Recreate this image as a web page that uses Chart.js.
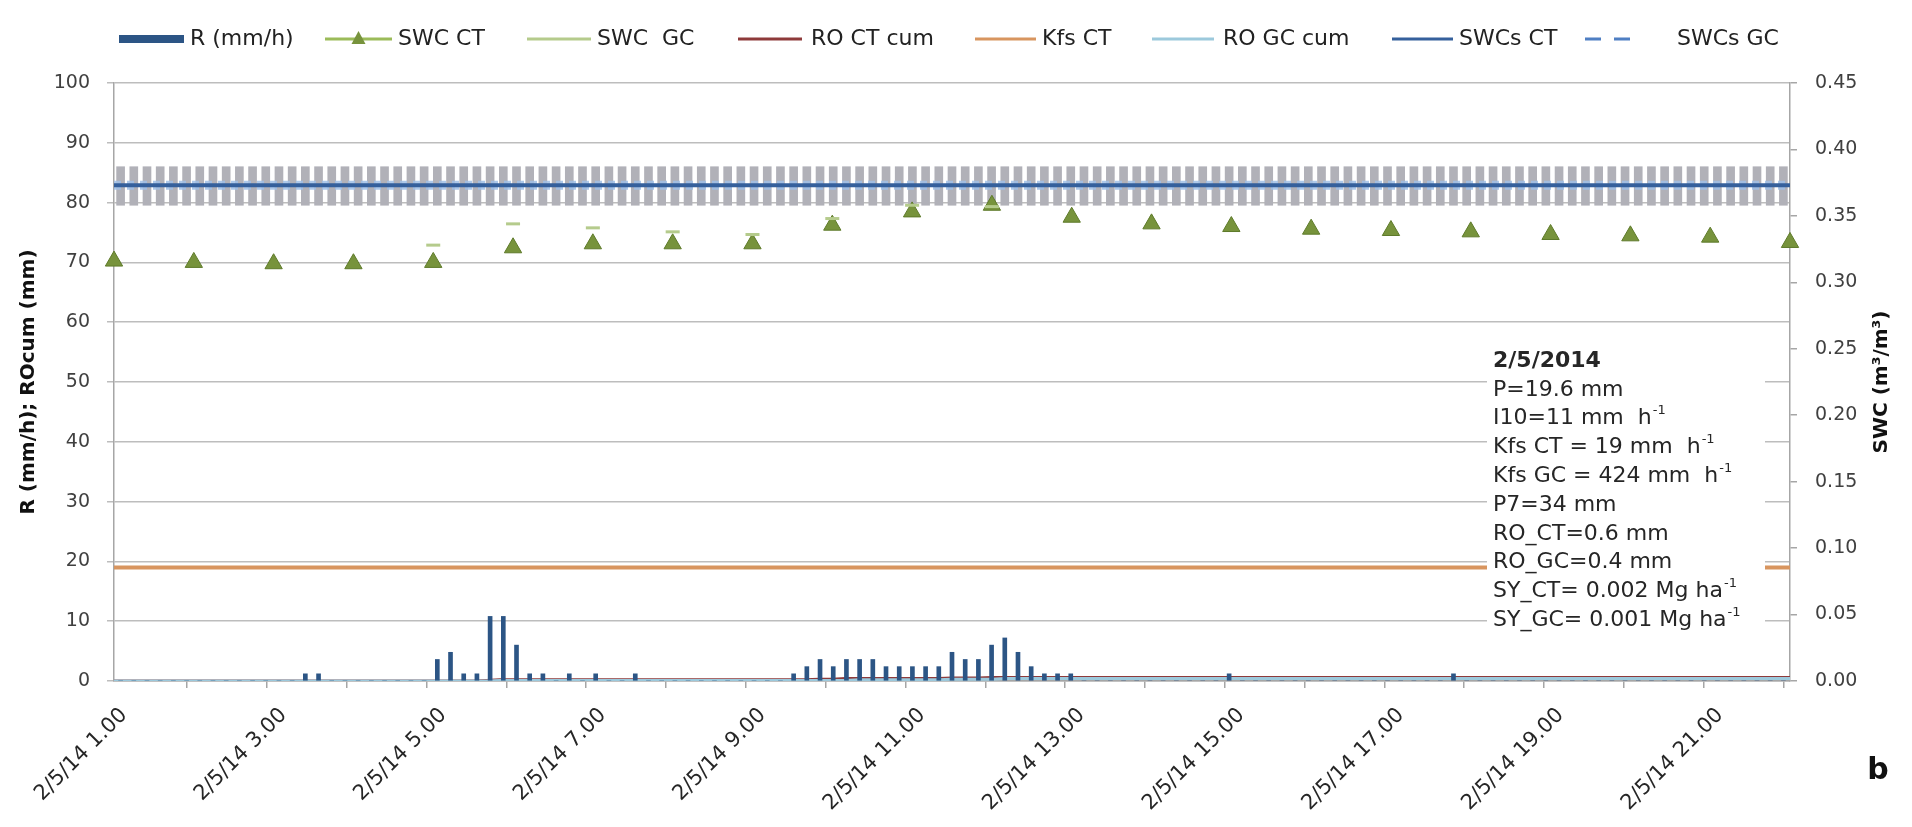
<!DOCTYPE html>
<html>
<head>
<meta charset="utf-8">
<script src="https://cdn.jsdelivr.net/npm/chart.js@4.4.1/dist/chart.umd.min.js"></script>
<style>
  html, body { margin: 0; padding: 0; background: #fff; }
  #wrap { width: 1912px; height: 827px; }
</style>
</head>
<body>
<div id="wrap"><canvas id="chart" width="1912" height="827"></canvas></div>
<script>
// 10-minute time steps, 2/5/14 1.00 to 22.00
const categories = [];
for (let h = 1; h <= 22; h++) {
  for (let m = 0; m < 60; m += 10) {
    if (h === 22 && m > 0) break;
    categories.push('2/5/14 ' + h + '.' + (m === 0 ? '00' : String(m)));
  }
}

// labels shown every 2 hours
const tickLabels = ['2/5/14 1.00', '2/5/14 3.00', '2/5/14 5.00', '2/5/14 7.00', '2/5/14 9.00',
  '2/5/14 11.00', '2/5/14 13.00', '2/5/14 15.00', '2/5/14 17.00', '2/5/14 19.00', '2/5/14 21.00'];

// rain intensity R (mm/h), one row per hour
const rainR = [
  0, 0, 0, 0, 0, 0,               // 1.00
  0, 0, 0, 0, 0, 0,               // 2.00
  0, 0, 1.2, 1.2, 0, 0,           // 3.00
  0, 0, 0, 0, 0, 0,               // 4.00
  3.6, 4.8, 1.2, 1.2, 10.8, 10.8, // 5.00
  6.0, 1.2, 1.2, 0, 1.2, 0,       // 6.00
  1.2, 0, 0, 1.2, 0, 0,           // 7.00
  0, 0, 0, 0, 0, 0,               // 8.00
  0, 0, 0, 1.2, 2.4, 3.6,         // 9.00
  2.4, 3.6, 3.6, 3.6, 2.4, 2.4,   // 10.00
  2.4, 2.4, 2.4, 4.8, 3.6, 3.6,   // 11.00
  6.0, 7.2, 4.8, 2.4, 1.2, 1.2,   // 12.00
  1.2, 0, 0, 0, 0, 0,             // 13.00
  0, 0, 0, 0, 0, 0,               // 14.00
  1.2, 0, 0, 0, 0, 0,             // 15.00
  0, 0, 0, 0, 0, 0,               // 16.00
  0, 0, 0, 0, 0, 1.2,             // 17.00
  0, 0, 0, 0, 0, 0,               // 18.00
  0, 0, 0, 0, 0, 0,               // 19.00
  0, 0, 0, 0, 0, 0,               // 20.00
  0, 0, 0, 0, 0, 0,               // 21.00
  0                               // 22.00
];

// cumulative runoff (mm)
const roCtCum = [
  0, 0, 0, 0, 0, 0,   0, 0, 0, 0, 0, 0,   0, 0, 0, 0, 0, 0,   0, 0, 0, 0, 0, 0,
  0, 0, 0, 0, 0.1, 0.2,   0.2, 0.2, 0.2, 0.2, 0.2, 0.2,   0.2, 0.2, 0.2, 0.2, 0.2, 0.2,
  0.2, 0.2, 0.2, 0.2, 0.2, 0.2,   0.2, 0.2, 0.2, 0.2, 0.2, 0.3,   0.3, 0.4, 0.4, 0.4, 0.4, 0.4,
  0.4, 0.4, 0.4, 0.5, 0.5, 0.5,   0.6, 0.6, 0.6, 0.6, 0.6, 0.6,   0.6, 0.6, 0.6, 0.6, 0.6, 0.6,
  0.6, 0.6, 0.6, 0.6, 0.6, 0.6,   0.6, 0.6, 0.6, 0.6, 0.6, 0.6,   0.6, 0.6, 0.6, 0.6, 0.6, 0.6,
  0.6, 0.6, 0.6, 0.6, 0.6, 0.6,   0.6, 0.6, 0.6, 0.6, 0.6, 0.6,   0.6, 0.6, 0.6, 0.6, 0.6, 0.6,
  0.6, 0.6, 0.6, 0.6, 0.6, 0.6,   0.6, 0.6, 0.6, 0.6, 0.6, 0.6,   0.6
];
const roGcCum = [
  0, 0, 0, 0, 0, 0,   0, 0, 0, 0, 0, 0,   0, 0, 0, 0, 0, 0,   0, 0, 0, 0, 0, 0,
  0, 0, 0, 0, 0, 0.1,   0.1, 0.1, 0.1, 0.1, 0.1, 0.1,   0.1, 0.1, 0.1, 0.1, 0.1, 0.1,
  0.1, 0.1, 0.1, 0.1, 0.1, 0.1,   0.1, 0.1, 0.1, 0.1, 0.1, 0.1,   0.1, 0.1, 0.2, 0.2, 0.2, 0.2,
  0.2, 0.2, 0.2, 0.3, 0.3, 0.3,   0.3, 0.4, 0.4, 0.4, 0.4, 0.4,   0.4, 0.4, 0.4, 0.4, 0.4, 0.4,
  0.4, 0.4, 0.4, 0.4, 0.4, 0.4,   0.4, 0.4, 0.4, 0.4, 0.4, 0.4,   0.4, 0.4, 0.4, 0.4, 0.4, 0.4,
  0.4, 0.4, 0.4, 0.4, 0.4, 0.4,   0.4, 0.4, 0.4, 0.4, 0.4, 0.4,   0.4, 0.4, 0.4, 0.4, 0.4, 0.4,
  0.4, 0.4, 0.4, 0.4, 0.4, 0.4,   0.4, 0.4, 0.4, 0.4, 0.4, 0.4,   0.4
];

// hourly soil water content (m3/m3), 1.00 ... 22.00
const swcCtHourly = [0.316, 0.315, 0.314, 0.314, 0.315, 0.326, 0.329, 0.329, 0.329, 0.343, 0.353,
  0.358, 0.349, 0.344, 0.342, 0.340, 0.339, 0.338, 0.336, 0.335, 0.334, 0.330];
const swcGcHourly = [null, null, null, null, 0.328, 0.344, 0.341, 0.338, 0.336, 0.348, 0.358,
  0.357, null, null, null, null, null, null, null, null, null, null];

// saturated SWC and its spread, Kfs CT (mm/h)
const swcsCt = 0.373;
const swcsGc = 0.373;
const swcsLow = 0.358;
const swcsHigh = 0.387;
const kfsCt = 19;

const seriesNames = ['R (mm/h)', 'SWC CT', 'SWC  GC', 'RO CT cum', 'Kfs CT', 'RO GC cum', 'SWCs CT', 'SWCs GC'];

const noteLines = [
  ['2/5/2014', ''],
  ['P=19.6 mm', ''],
  ['I10=11 mm  h', '-1'],
  ['Kfs CT = 19 mm  h', '-1'],
  ['Kfs GC = 424 mm  h', '-1'],
  ['P7=34 mm', ''],
  ['RO_CT=0.6 mm', ''],
  ['RO_GC=0.4 mm', ''],
  ['SY_CT= 0.002 Mg ha', '-1'],
  ['SY_GC= 0.001 Mg ha', '-1']
];

const FONT = "'DejaVu Sans'";
const colors = {
  bar: '#2c5585',
  swcCt: '#77933c',
  swcCtLine: '#9bbb59',
  swcGc: '#b5cb8c',
  roCt: '#8e3a3a',
  kfs: '#d8955f',
  roGc: '#9cc9dc',
  swcsCt: '#35609c',
  swcsGc: '#4f7fc3',
  band: '#b1b1b8'
};

const hourly = (arr) => categories.map((c, i) => (i % 6 === 0 ? arr[i / 6] : null));
const constant = (v) => categories.map(() => v);

// legend drawn by hand so the items sit where the original has them
const legendSpec = [
  { kind: 'bar',  color: colors.bar,       x: 119,  w: 65, tx: 190 },
  { kind: 'tri',  color: colors.swcCtLine, x: 325,  w: 67, tx: 398 },
  { kind: 'line', color: colors.swcGc,     x: 527,  w: 64, tx: 597 },
  { kind: 'line', color: colors.roCt,      x: 738,  w: 64, tx: 811 },
  { kind: 'line', color: colors.kfs,       x: 975,  w: 61, tx: 1042 },
  { kind: 'line', color: colors.roGc,      x: 1152, w: 62, tx: 1223 },
  { kind: 'line', color: colors.swcsCt,    x: 1392, w: 61, tx: 1459 },
  { kind: 'dash', color: colors.swcsGc,    x: 1585, w: 46, tx: 1677 }
];

const extras = {
  id: 'extras',
  afterDatasetsDraw(chart) {
    const ctx = chart.ctx;
    ctx.save();
    ctx.fillStyle = '#fff';
    ctx.fillRect(1487, 345, 278, 294);
    ctx.fillStyle = '#262626';
    ctx.textBaseline = 'middle';
    ctx.textAlign = 'left';
    noteLines.forEach((ln, i) => {
      const y = 361 + i * 28.8;
      ctx.font = (i === 0 ? 'bold ' : '') + '22px ' + FONT;
      ctx.fillText(ln[0], 1493, y);
      if (ln[1]) {
        const w = ctx.measureText(ln[0]).width;
        ctx.font = '13px ' + FONT;
        ctx.fillText(ln[1], 1493 + w + 1, y - 8);
      }
    });
    ctx.restore();
  },
  afterDraw(chart) {
    const ctx = chart.ctx;
    ctx.save();
    // legend
    const ly = 39;
    legendSpec.forEach((it, i) => {
      ctx.strokeStyle = it.color;
      ctx.fillStyle = it.color;
      if (it.kind === 'bar') {
        ctx.fillRect(it.x, ly - 4, it.w, 8);
      } else {
        ctx.lineWidth = 3;
        ctx.setLineDash(it.kind === 'dash' ? [16, 13] : []);
        ctx.beginPath();
        ctx.moveTo(it.x, ly);
        ctx.lineTo(it.x + it.w, ly);
        ctx.stroke();
        ctx.setLineDash([]);
        if (it.kind === 'tri') {
          const cx = it.x + it.w / 2;
          ctx.fillStyle = colors.swcCt;
          ctx.beginPath();
          ctx.moveTo(cx, ly - 8);
          ctx.lineTo(cx + 7, ly + 5);
          ctx.lineTo(cx - 7, ly + 5);
          ctx.closePath();
          ctx.fill();
        }
      }
      ctx.fillStyle = '#222';
      ctx.font = '22px ' + FONT;
      ctx.textBaseline = 'middle';
      ctx.textAlign = 'left';
      ctx.fillText(seriesNames[i], it.tx, ly);
    });
    // right axis title, reading upwards like the left one
    ctx.translate(1882, 382);
    ctx.rotate(-Math.PI / 2);
    ctx.font = 'bold 20px ' + FONT;
    ctx.fillStyle = '#111';
    ctx.textAlign = 'center';
    ctx.fillText('SWC (m³/m³)', 0, 0);
    ctx.restore();
    // panel letter
    ctx.save();
    ctx.font = 'bold 30px ' + FONT;
    ctx.fillStyle = '#111';
    ctx.textAlign = 'center';
    ctx.textBaseline = 'middle';
    ctx.fillText('b', 1878, 771);
    ctx.restore();
  }
};

const tickFont = { family: FONT, size: 19 };

new Chart(document.getElementById('chart'), {
  type: 'bar',
  data: {
    labels: categories,
    datasets: [
      {
        type: 'line', label: seriesNames[1], data: hourly(swcCtHourly),
        xAxisID: 'x', yAxisID: 'y1', showLine: false, order: 2,
        pointStyle: 'triangle', pointRadius: 10, pointBorderWidth: 1,
        pointBackgroundColor: colors.swcCt, pointBorderColor: '#5e7a2a'
      },
      {
        type: 'line', label: seriesNames[2], data: hourly(swcGcHourly),
        xAxisID: 'x', yAxisID: 'y1', showLine: false, order: 1,
        pointStyle: 'line', pointRadius: 7, pointBorderWidth: 3,
        pointBorderColor: colors.swcGc, pointBackgroundColor: colors.swcGc
      },
      {
        type: 'bar', label: seriesNames[0], data: rainR,
        xAxisID: 'xb', yAxisID: 'y', order: 3, grouped: false,
        backgroundColor: colors.bar, barThickness: 4
      },
      {
        type: 'line', label: seriesNames[3], data: roCtCum,
        xAxisID: 'x', yAxisID: 'y', order: 5,
        borderColor: colors.roCt, borderWidth: 3, pointRadius: 0
      },
      {
        type: 'line', label: seriesNames[5], data: roGcCum,
        xAxisID: 'x', yAxisID: 'y', order: 4,
        borderColor: colors.roGc, borderWidth: 3, pointRadius: 0
      },
      {
        type: 'line', label: seriesNames[4], data: constant(kfsCt),
        xAxisID: 'x', yAxisID: 'y', order: 6,
        borderColor: colors.kfs, borderWidth: 4, pointRadius: 0
      },
      {
        type: 'line', label: seriesNames[6], data: constant(swcsCt),
        xAxisID: 'x', yAxisID: 'y1', order: 7,
        borderColor: colors.swcsCt, borderWidth: 4, pointRadius: 0
      },
      {
        type: 'line', label: seriesNames[7], data: constant(swcsGc),
        xAxisID: 'x', yAxisID: 'y1', order: 8,
        borderColor: 'rgba(160,192,230,0.85)', borderWidth: 9, borderDash: [7, 6], pointRadius: 0
      },
      {
        type: 'bar', label: 'SWCs range', data: categories.map(() => [swcsLow, swcsHigh]),
        xAxisID: 'xb', yAxisID: 'y1', order: 9, grouped: false,
        backgroundColor: colors.band, barThickness: 8
      }
    ]
  },
  options: {
    responsive: false,
    animation: false,
    layout: { padding: { top: 83, left: 0, right: 0, bottom: 0 } },
    plugins: {
      legend: { display: false },
      tooltip: { enabled: false }
    },
    scales: {
      x: {
        type: 'category',
        offset: false,
        grid: {
          drawOnChartArea: false,
          tickLength: 7,
          lineWidth: 1.5,
          color: (c) => (c.index % 6 === 0 ? '#a6a6a6' : 'rgba(0,0,0,0)')
        },
        border: { color: '#a6a6a6', width: 1.5 },
        ticks: {
          autoSkip: false,
          maxRotation: 45,
          minRotation: 45,
          padding: 15,
          labelOffset: 10,
          color: '#262626',
          font: { family: FONT, size: 21 },
          callback: (v, i) => (i % 12 === 0 ? tickLabels[i / 12] : '')
        },
        afterFit: (s) => { s.height = 146; }
      },
      xb: { type: 'category', offset: true, display: false },
      y: {
        position: 'left',
        min: 0,
        max: 100,
        ticks: { stepSize: 10, padding: 17, color: '#404040', font: tickFont },
        grid: { color: '#bdbdbd', lineWidth: 1.5, tickLength: 7 },
        border: { color: '#a6a6a6', width: 1.5 },
        title: {
          display: true,
          text: 'R (mm/h); ROcum (mm)',
          color: '#111',
          font: { family: FONT, size: 20, weight: 'bold' },
          padding: { top: 17, bottom: 0 }
        },
        afterFit: (s) => { s.width = 114; }
      },
      y1: {
        position: 'right',
        min: 0,
        max: 0.45,
        ticks: { stepSize: 0.05, padding: 18, color: '#404040', font: tickFont, callback: (v) => v.toFixed(2) },
        grid: { drawOnChartArea: false, tickLength: 7, color: '#a6a6a6', lineWidth: 1.5 },
        border: { color: '#a6a6a6', width: 1.5 },
        afterFit: (s) => { s.width = 122; }
      }
    }
  },
  plugins: [extras]
});
</script>
</body>
</html>
